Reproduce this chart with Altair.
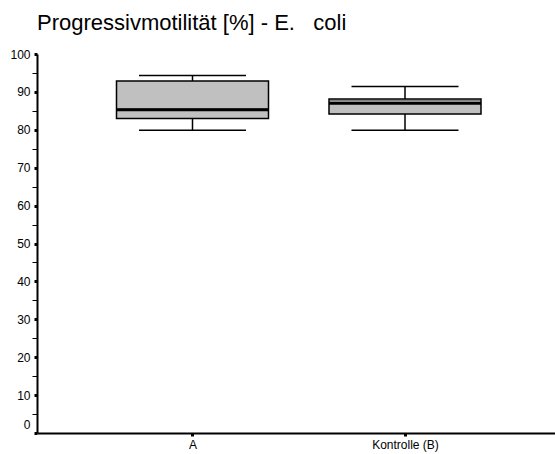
import altair as alt
import pandas as pd

categories = ["A", "Kontrolle (B)"]
whisker_low = [79.9, 79.9]
q1 = [83.0, 84.2]
median = [85.3, 87.0]
mean = [85.6, 87.7]
q3 = [92.9, 88.1]
whisker_high = [94.3, 91.4]
y_ticks = list(range(0, 101, 5))

df = pd.DataFrame({
    "cat": categories,
    "lo": whisker_low,
    "q1": q1,
    "median": median,
    "mean": mean,
    "q3": q3,
    "hi": whisker_high,
})

FONT = "Liberation Sans"

xscale = alt.Scale(type="point", padding=0.7188, align=0.509, domain=categories)
xaxis = alt.Axis(
    title=None, labelFont=FONT, labelFontSize=12, labelColor="black",
    labelAngle=0, tickSize=3, tickWidth=3, tickColor="black",
    domainColor="black", domainWidth=2, labelPadding=3, grid=False,
)
yscale = alt.Scale(domain=[0, 100], nice=False, zero=True)
yaxis = alt.Axis(
    title=None, values=y_ticks, grid=False,
    labelExpr="datum.value % 10 == 0 ? datum.label : ''",
    labelFont=FONT, labelFontSize=12, labelColor="black",
    labelOffset={"condition": {"test": "datum.value == 0", "value": -9}, "value": 0},
    tickSize={"condition": {"test": "datum.value % 10 == 0", "value": 3}, "value": 5},
    tickWidth={"condition": {"test": "datum.value % 10 == 0", "value": 3}, "value": 1},
    tickColor="black", domainColor="black", domainWidth=2, labelPadding=4,
)


def X():
    return alt.X("cat:N", scale=xscale, axis=xaxis, sort=categories)


def Y(field):
    return alt.Y(f"{field}:Q", scale=yscale, axis=yaxis)


base = alt.Chart(df)

whisker = base.mark_rule(color="black", strokeWidth=1.5).encode(
    x=X(), y=Y("lo"), y2="hi:Q"
)
box = base.mark_bar(size=152, color="#c0c0c0", stroke="black", strokeWidth=1.5,
                    opacity=1).encode(
    x=X(), y=Y("q1"), y2="q3:Q"
)
mean_line = base.mark_tick(size=150, thickness=1, color="#808080", opacity=1).encode(
    x=X(), y=Y("mean")
)
median_line = base.mark_tick(size=152, thickness=3, color="black", opacity=1).encode(
    x=X(), y=Y("median")
)
cap_lo = base.mark_tick(size=107, thickness=1.5, color="black", opacity=1).encode(
    x=X(), y=Y("lo")
)
cap_hi = base.mark_tick(size=107, thickness=1.5, color="black", opacity=1).encode(
    x=X(), y=Y("hi")
)

chart = alt.layer(whisker, box, mean_line, median_line, cap_lo, cap_hi).properties(
    width=518,
    height=379,
    background="white",
    autosize=alt.AutoSizeParams(type="none"),
    padding={"left": 37, "top": 54, "right": 0, "bottom": 21},
    title=alt.TitleParams(
        "Progressivmotilität [%] - E.\u00a0\u00a0\u00a0coli",
        font=FONT, fontSize=22, fontWeight="normal", color="black",
        anchor="start", frame="group", offset=13,
    ),
).configure_view(stroke="transparent", strokeWidth=0)

chart.save("out.html", embed_options={"renderer": "svg", "actions": False})
